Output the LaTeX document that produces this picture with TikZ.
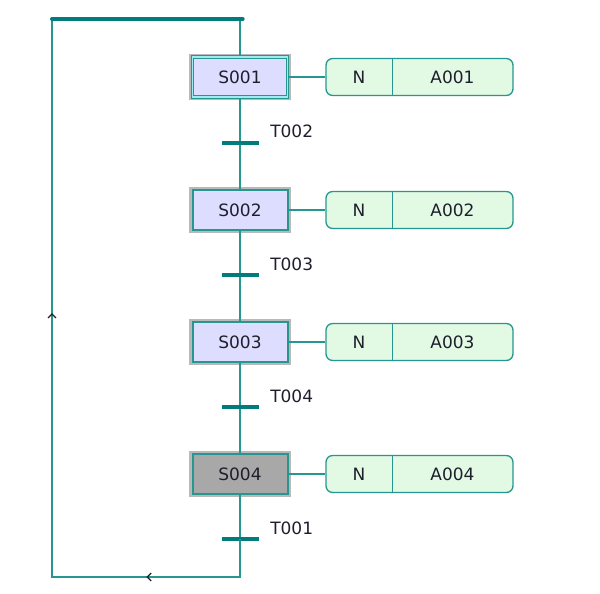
\documentclass[tikz,border=0pt]{standalone}
\usepackage{fontspec}
\setmainfont{DejaVu Sans}
\usetikzlibrary{arrows.meta,decorations.markings}
\definecolor{flowc}{RGB}{38,150,145}
\definecolor{barc}{RGB}{0,124,124}
\definecolor{stepfill}{RGB}{221,222,255}
\definecolor{actfill}{RGB}{226,250,228}
\definecolor{activefill}{RGB}{168,168,168}
\definecolor{txt}{RGB}{30,30,45}
\definecolor{shadowc}{RGB}{185,185,185}
\definecolor{innerc}{RGB}{160,235,240}
\tikzset{
  flow/.style={draw=flowc, line width=1.25pt},
  topbar/.style={draw=barc, line width=3pt, line cap=round},
  stepbox/.style={rectangle, draw=flowc, line width=1.5pt, fill=stepfill,
    minimum width=71.25pt, minimum height=30pt, inner sep=0pt, text=txt,
    font=\fontsize{12.75}{15}\selectfont,
    preaction={draw=shadowc, line width=5pt}},
  initstep/.style={stepbox, line width=0.8pt, double=innerc, double distance=1.1pt},
  activestep/.style={stepbox, fill=activefill},
  trbar/.style={rectangle, fill=barc, minimum width=27.75pt, minimum height=3pt, inner sep=0pt},
  trlabel/.style={anchor=west, text=txt, font=\fontsize{12.75}{15}\selectfont, inner sep=0pt},
  actbox/.style={rectangle, rounded corners=5pt, draw=flowc, line width=1pt, fill=actfill,
    minimum width=140.25pt, minimum height=27.75pt, inner sep=0pt},
  qualpart/.style={rectangle, minimum width=49.5pt, minimum height=27.75pt, inner sep=0pt,
    text=txt, font=\fontsize{12.75}{15}\selectfont},
  namepart/.style={rectangle, inner sep=0pt, text=txt, font=\fontsize{12.75}{15}\selectfont},
  loopdeco/.style={postaction=decorate, decoration={markings,
    mark=at position 0.168 with {\arrow[txt]{Straight Barb[length=3pt,width=6pt,line width=1pt]}},
    mark=at position 0.625 with {\arrow[txt]{Straight Barb[length=3pt,width=6pt,line width=1pt]}}}}
}
\begin{document}
\begin{tikzpicture}[x=0.75pt,y=-0.75pt]
\useasboundingbox (0,0) rectangle (600,593);
% top bar
\coordinate (topL) at (52,19);
\coordinate (topR) at (240,19);
\coordinate (botR) at (240,577);
\coordinate (botL) at (52,577);
% steps
\node[initstep] (s1) at (240,77) {S001};
\node[stepbox] (s2) at (240,210) {S002};
\node[stepbox] (s3) at (240,342) {S003};
\node[activestep] (s4) at (240,474) {S004};
% transitions
\node[trbar] (t2) at (240,143) {};
\node[trbar] (t3) at (240,275) {};
\node[trbar] (t4) at (240,407) {};
\node[trbar] (t1) at (240,539) {};
\node[trlabel] (l2) at (270,131.5) {T002};
\node[trlabel] (l3) at (270,264) {T003};
\node[trlabel] (l4) at (270,396) {T004};
\node[trlabel] (l1) at (270,528) {T001};
% actions
\foreach \i/\y/\a in {1/77/A001,2/210/A002,3/342/A003,4/474/A004}{
  \node[actbox] (act\i) at (419.5,\y) {};
  \node[qualpart] (n\i) at (359,\y) {N};
  \node[namepart] (a\i) at (452.5,\y) {\a};
  \draw[flow, line width=0.9pt] (n\i.north east) -- (n\i.south east);
  \draw[flow] (s\i.east) -- (act\i.west);
}
% flow lines
\draw[flow] (topR) -- (s1.north);
\draw[flow] (s1.south) -- (t2.center);
\draw[flow] (t2.center) -- (s2.north);
\draw[flow] (s2.south) -- (t3.center);
\draw[flow] (t3.center) -- (s3.north);
\draw[flow] (s3.south) -- (t4.center);
\draw[flow] (t4.center) -- (s4.north);
\draw[flow] (s4.south) -- (t1.center);
\node[trbar] at (t2) {};
\node[trbar] at (t3) {};
\node[trbar] at (t4) {};
\node[trbar] at (t1) {};
\draw[flow, loopdeco] (t1.center) -- (botR) -- (botL) -- (topL);
\draw[topbar] (topL) -- ([xshift=2]topR);
\end{tikzpicture}
\end{document}
